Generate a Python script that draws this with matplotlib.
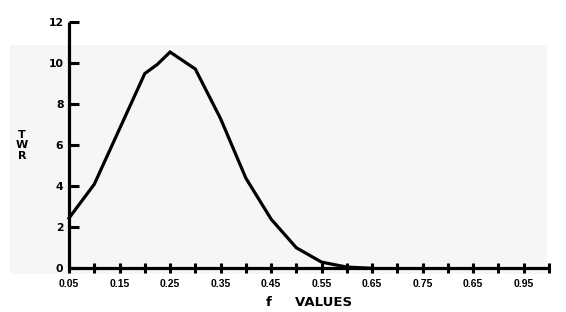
import numpy as np
import matplotlib
matplotlib.use("Agg")
import matplotlib.pyplot as plt
from matplotlib.patches import Rectangle

# TWR curve
f_values = [0.05, 0.10, 0.15, 0.20, 0.225, 0.25, 0.30, 0.35, 0.40, 0.45, 0.50, 0.55, 0.60, 0.65]
twr = [2.45, 4.1, 6.8, 9.5, 9.95, 10.55, 9.72, 7.3, 4.4, 2.4, 1.0, 0.3, 0.06, 0.0]

tick_pos = [0.05, 0.15, 0.25, 0.35, 0.45, 0.55, 0.65, 0.75, 0.85, 0.95]
# the scan labels 0.85 as "0.65" - kept as printed
tick_labels = ["0.05", "0.15", "0.25", "0.35", "0.45", "0.55", "0.65", "0.75", "0.65", "0.95"]
y_ticks = [0, 2, 4, 6, 8, 10, 12]

plt.rcParams["font.family"] = ["Liberation Sans", "DejaVu Sans"]

fig = plt.figure(figsize=(5.66, 3.12), dpi=100)
fig.patch.set_facecolor("white")

# light grey band from the scanned page
fig.patches.append(Rectangle((10 / 566, 1 - 274 / 312), 537 / 566, 229 / 312,
                             transform=fig.transFigure, facecolor="#f6f6f6",
                             edgecolor="none", zorder=-10))

ax = fig.add_axes([69 / 566, 1 - 268.3 / 312, 480 / 566, 246 / 312])
ax.patch.set_alpha(0)

ax.plot(f_values, twr, color="black", lw=2.3, solid_joinstyle="miter", clip_on=False)

ax.set_xlim(0.05, 1.0)
ax.set_ylim(0, 12)

for s in ["top", "right"]:
    ax.spines[s].set_visible(False)
for s in ["left", "bottom"]:
    ax.spines[s].set_linewidth(2.3)
    ax.spines[s].set_capstyle("butt")

ax.set_yticks(y_ticks)
ax.set_yticklabels([str(v) for v in y_ticks], family="DejaVu Sans", fontsize=7.8,
                   fontweight="bold")
ax.tick_params(axis="y", direction="in", length=7, width=2.2, pad=4)

ax.set_xticks(tick_pos)
ax.set_xticklabels(tick_labels, fontsize=7.5, fontweight="bold")
ax.set_xticks(np.arange(0.10, 1.001, 0.10), minor=True)
ax.tick_params(axis="x", which="both", direction="inout", length=7, width=2.2, pad=4)

ax.set_xlabel("f     VALUES", family="DejaVu Sans", fontsize=9.5, fontweight="bold", labelpad=5)
ax.set_ylabel("T\nW\nR", rotation=0, family="DejaVu Sans", fontsize=8, fontweight="bold",
              linespacing=1.05, va="center", ha="center")
ax.yaxis.set_label_coords(-0.098, 0.5)

fig.savefig("out.png", dpi=100)
